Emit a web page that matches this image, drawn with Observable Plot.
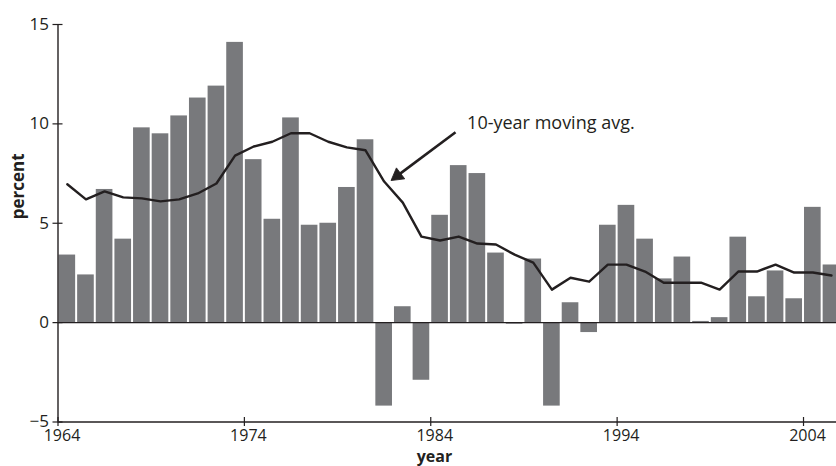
<!DOCTYPE html>
<html>
<head>
<meta charset="utf-8">
<script src="https://cdn.jsdelivr.net/npm/d3@7"></script>
<script src="https://cdn.jsdelivr.net/npm/@observablehq/plot@0.6"></script>
<style>
  html, body { margin: 0; padding: 0; background: #fff; }
  #chart { width: 836px; height: 466px; overflow: hidden; }
</style>
</head>
<body>
<div id="chart"></div>
<script>
const firstYear = 1964;
const values = [3.4, 2.4, 6.7, 4.2, 9.8, 9.5, 10.4, 11.3, 11.9, 14.1, 8.2, 5.2, 10.3, 4.9, 5.0, 6.8, 9.2, -4.2, 0.8, -2.9,
                5.4, 7.9, 7.5, 3.5, -0.08, 3.2, -4.2, 1.0, -0.5, 4.9, 5.9, 4.2, 2.2, 3.3, 0.06, 0.25, 4.3, 1.3, 2.6, 1.2, 5.8, 2.9];
const movingAvg = [6.96, 6.2, 6.6, 6.3, 6.25, 6.1, 6.2, 6.5, 7.0, 8.4, 8.86, 9.1, 9.53, 9.53, 9.1, 8.82, 8.67, 7.1, 6.04, 4.33,
                   4.13, 4.33, 3.98, 3.93, 3.42, 3.02, 1.66, 2.26, 2.06, 2.92, 2.92, 2.57, 2.01, 2.01, 2.01, 1.66, 2.57, 2.57, 2.92, 2.52, 2.52, 2.37];
const xTicks = [1964, 1974, 1984, 1994, 2004];
const yTicks = [-5, 0, 5, 10, 15];
const annotationText = ["10-year moving avg."];
const annotationPos = [{x: 1985.95, y: 10.04}];
const arrowShaft = [{x1: 1985.33, y1: 9.58, x2: 1982.25, y2: 7.42}];
const arrowHead = [{x: 1982.21, y: 7.39}];
const xLabel = "year";
const yLabel = "percent";

const data = values.map((v, i) => ({year: firstYear + i, value: v, avg: movingAvg[i]}));
const ink = "#231f20";

const chart = Plot.plot({
  width: 836,
  height: 466,
  marginLeft: 57.5,
  marginRight: 0,
  marginTop: 24,
  marginBottom: 44.5,
  style: {fontFamily: "Open Sans", fontSize: "17px", color: ink, background: "#fff", overflow: "hidden"},
  x: {type: "linear", domain: [1964, 2005.77]},
  y: {domain: [-5, 15]},
  marks: [
    Plot.rectY(data, {x1: d => d.year, x2: d => d.year + 1, y: "value", insetLeft: 1, insetRight: 1, fill: "#78797c", clip: true}),
    Plot.ruleY([0], {stroke: ink, strokeWidth: 1.3}),
    Plot.ruleY([-5], {stroke: ink, strokeWidth: 1.4}),
    Plot.ruleX([1964], {y1: -5, y2: 15, stroke: ink, strokeWidth: 1.4}),
    Plot.ruleX(xTicks, {y1: -5, y2: -5, insetTop: -4.5, insetBottom: -4.5, stroke: ink, strokeWidth: 1.2}),
    Plot.ruleY(yTicks, {x1: 1964, x2: 1964, insetLeft: -5, insetRight: -5, stroke: ink, strokeWidth: 1.2}),
    Plot.axisX({ticks: xTicks, tickSize: 0, tickPadding: 8, dx: 4, tickFormat: d => String(d), label: null, fontSize: 16}),
    Plot.axisY({ticks: yTicks, tickSize: 0, tickPadding: 9, label: null, fontSize: 17}),
    Plot.line(data, {x: d => d.year + 0.5, y: "avg", stroke: ink, strokeWidth: 2.4, clip: true}),
    Plot.link(arrowShaft, {x1: "x1", y1: "y1", x2: "x2", y2: "y2", stroke: ink, strokeWidth: 2.6}),
    Plot.dot(arrowHead, {x: "x", y: "y", symbol: "triangle", r: 5.1, rotate: 233, fill: ink, stroke: ink, strokeWidth: 0.8}),
    Plot.text(annotationText, {x: () => annotationPos[0].x, y: () => annotationPos[0].y, text: d => d, textAnchor: "start", fontSize: 18, fill: ink}),
    Plot.text([xLabel], {x: () => 1984.2, frameAnchor: "bottom", lineAnchor: "bottom", dy: 40, text: d => d, fontWeight: "bold", fontSize: 16, fill: ink}),
    Plot.text([yLabel], {frameAnchor: "left", rotate: -90, dx: -39, dy: -4, text: d => d, fontWeight: "bold", fontSize: 17, fill: ink})
  ]
});
document.getElementById("chart").appendChild(chart);
</script>
</body>
</html>
